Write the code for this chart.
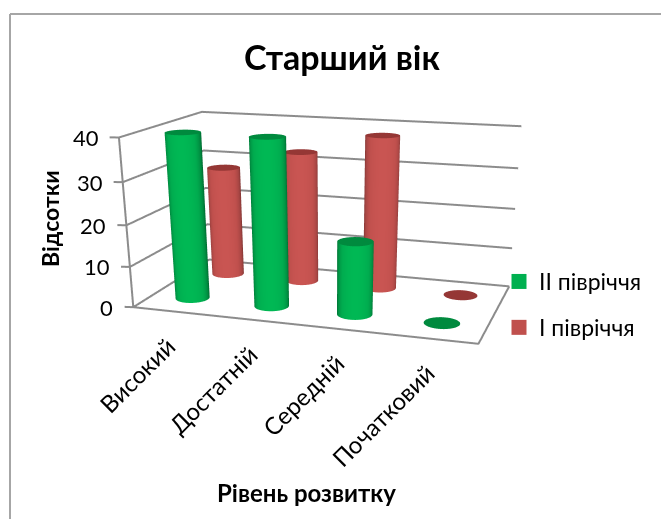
import numpy as np, plotly.graph_objects as go

W, H, FH = 661, 519, 830
categories = ["Високий", "Достатній", "Середній", "Початковий"]
series_ii = [40, 40, 17.5, 0]
series_i = [28, 33, 38, 0]
name_ii = "II півріччя"
name_i = "І півріччя"
ticks = [0, 10, 20, 30, 40]
title_text = "Старший вік"
x_title = "Рівень розвитку"
y_title = "Відсотки"

xr = (-0.62, 3.6); yr = (-0.62, 1.6); zr = (-1, 41)
ax, ay, az = 2.1098, 1.1854, 1.0
eye = dict(x=1.7655, y=-5.4334, z=1.3272)
center = dict(x=0.0546, y=-0.0838, z=-1.2038)
up = dict(x=-0.0081, y=-0.0215, z=1)

GRID = "#8c8c8c"
FONT = "Lato"
fig = go.Figure()

def ln(xs, ys, zs):
    fig.add_trace(go.Scatter3d(x=xs, y=ys, z=zs, mode="lines", line=dict(color=GRID, width=4),
                               showlegend=False, hoverinfo="skip"))

for t in ticks:
    ln([-.6, -.5, -.5, 3.5], [-.52, -.5, 1.5, 1.5], [t, t, t, t])
ln([-.5, -.5], [-.5, -.5], [0, 40])
ln([-.5, 3.5, 3.5], [-.5, -.5, 1.5], [0, 0, 0])

rx = 0.2
ry = rx * (ax / (xr[1] - xr[0])) / (ay / (yr[1] - yr[0]))
th = np.linspace(0, 2 * np.pi, 73)
view = np.arctan2(eye["y"] - center["y"], eye["x"] - center["x"])
L = dict(ambient=1, diffuse=0, specular=0, roughness=1, fresnel=0)

def cyl(i, j, v, cs, dark):
    if v > 0:
        X = np.array([i + rx * np.cos(th)] * 2)
        Y = np.array([j + ry * np.sin(th)] * 2)
        Z = np.array([np.zeros_like(th), np.full_like(th, v)])
        sc = np.maximum(np.cos(th - view), 0)
        fig.add_trace(go.Surface(x=X, y=Y, z=Z, surfacecolor=np.array([sc, sc]), cmin=0, cmax=1, colorscale=cs,
                                 showscale=False, hoverinfo="skip", lighting=L))
    R = np.array([0, 1.0])
    CX = np.outer(R, rx * np.cos(th)) + i
    CY = np.outer(R, ry * np.sin(th)) + j
    CZ = np.full_like(CX, v)
    fig.add_trace(go.Surface(x=CX, y=CY, z=CZ, surfacecolor=np.zeros_like(CX), cmin=0, cmax=1,
                             colorscale=[[0, dark], [1, dark]], showscale=False, hoverinfo="skip", lighting=L))

GREEN = [[0, "#00662f"], [.35, "#008c40"], [.7, "#00ac4f"], [1, "#00b854"]]
RED = [[0, "#7a3230"], [.35, "#a34442"], [.7, "#c0504d"], [1, "#c95552"]]
for i, v in enumerate(series_i):
    cyl(i, 1, v, RED, "#953735")
for i, v in enumerate(series_ii):
    cyl(i, 0, v, GREEN, "#008a3e")
for nm, col, g in ((name_ii, "#00B050", "a"), (name_i, "#C0504D", "b")):
    fig.add_trace(go.Scatter3d(x=[None], y=[None], z=[None], mode="markers", name=nm, legendgroup=g,
                               marker=dict(color=col, size=15, symbol="square")))

py = lambda v: 1 - v / FH
scene_ann = [dict(x=i, y=-.5, z=0, text=c, textangle=-45, showarrow=False, xanchor="right", yanchor="top",
                  yshift=-17, xshift=11, font=dict(family=FONT, size=24, color="#000"))
             for i, c in enumerate(categories)]
scene_ann += [dict(x=-.5, y=-.5, z=t, text=str(t), showarrow=False, xanchor="right", xshift=-18,
                   font=dict(family=FONT, size=22, color="#000")) for t in ticks]
hide = dict(showgrid=False, showbackground=False, showticklabels=False, zeroline=False, showline=False,
            showspikes=False, ticks="", title="")
border = dict(color="#a6a6a6", width=2)
fig.update_layout(
    width=W, height=FH, margin=dict(l=0, r=0, t=0, b=0), paper_bgcolor="white",
    title=dict(text=f"<b>{title_text}</b>", x=342 / W, xanchor="center", y=py(58), yanchor="middle",
               font=dict(family=FONT, size=34, color="#000")),
    scene=dict(domain=dict(x=[0, 1], y=[0, 1]), aspectmode="manual", aspectratio=dict(x=ax, y=ay, z=az),
               camera=dict(eye=eye, center=center, up=up),
               xaxis=dict(range=list(xr), **hide), yaxis=dict(range=list(yr), **hide),
               zaxis=dict(range=list(zr), **hide), annotations=scene_ann),
    legend=dict(x=499 / W, y=py(260), xanchor="left", yanchor="top", tracegroupgap=13,
                font=dict(family=FONT, size=23, color="#000"), bgcolor="rgba(0,0,0,0)", itemsizing="trace"),
    annotations=[
        dict(x=306 / W, y=py(492), xref="paper", yref="paper", xanchor="center", yanchor="middle",
             text=f"<b>{x_title}</b>", showarrow=False, font=dict(family=FONT, size=24, color="#000")),
        dict(x=50 / W, y=py(219), xref="paper", yref="paper", xanchor="center", yanchor="middle",
             text=f"<b>{y_title}</b>", textangle=-90, showarrow=False, font=dict(family=FONT, size=23, color="#000")),
    ],
    shapes=[dict(type="line", xref="paper", yref="paper", x0=10 / W, x1=10 / W, y0=0, y1=py(14), line=border),
            dict(type="line", xref="paper", yref="paper", x0=10 / W, x1=1, y0=py(14), y1=py(14), line=border)],
)
fig.write_html("out.html", config=dict(displayModeBar=False),
               post_script="document.body.style.margin='0';document.documentElement.style.overflow='hidden';document.body.style.overflow='hidden';")
